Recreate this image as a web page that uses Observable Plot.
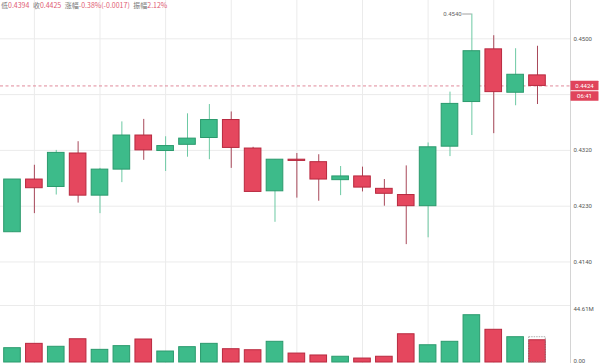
<!DOCTYPE html>
<html>
<head>
<meta charset="utf-8">
<script src="https://cdn.jsdelivr.net/npm/d3@7"></script>
<script src="https://cdn.jsdelivr.net/npm/@observablehq/plot@0.6"></script>
<style>
  html, body { margin: 0; padding: 0; background: #fff; }
  #wrap { position: relative; width: 600px; height: 363px; overflow: hidden; }
  #price { position: absolute; left: 0; top: 0; }
  #vol { position: absolute; left: 0; top: 290px; }
  #title { position: absolute; left: 1px; top: 0px; font-family: "Noto Sans CJK SC", "Noto Sans", sans-serif; font-size: 7px; color: #777; white-space: nowrap; }
  #title .v { color: #e05a72; margin-right: 3.5px; }
</style>
</head>
<body>
<div id="wrap">
  <div id="price"></div>
  <div id="vol"></div>
  <div id="title"></div>
</div>
<script>
// ---- data ----
const opens  = [0.4188, 0.4273, 0.4261, 0.4315, 0.4247, 0.4289, 0.4344, 0.4319, 0.4329, 0.4340, 0.4369, 0.4323, 0.4254, 0.4305, 0.4301, 0.4272, 0.4278, 0.4258, 0.4248, 0.4230, 0.4326, 0.4398, 0.4483, 0.4413, 0.4441];
const highs  = [0.4273, 0.4296, 0.4320, 0.4334, 0.4291, 0.4366, 0.4370, 0.4342, 0.4379, 0.4394, 0.4382, 0.4325, 0.4305, 0.4315, 0.4313, 0.4294, 0.4293, 0.4273, 0.4295, 0.4332, 0.4414, 0.4540, 0.4505, 0.4484, 0.4488];
const lows   = [0.4188, 0.4218, 0.4248, 0.4235, 0.4218, 0.4268, 0.4304, 0.4286, 0.4309, 0.4305, 0.4291, 0.4253, 0.4204, 0.4243, 0.4238, 0.4247, 0.4253, 0.4230, 0.4168, 0.4179, 0.4310, 0.4344, 0.4347, 0.4392, 0.4394];
const closes = [0.4273, 0.4259, 0.4316, 0.4247, 0.4289, 0.4344, 0.4320, 0.4327, 0.4339, 0.4369, 0.4324, 0.4253, 0.4305, 0.4303, 0.4273, 0.4278, 0.4260, 0.4250, 0.4230, 0.4325, 0.4395, 0.4480, 0.4414, 0.4442, 0.4424];
const volumes = [11.2, 14.6, 12.3, 18.2, 9.9, 12.8, 18.0, 8.6, 12.0, 14.6, 10.4, 9.6, 16.2, 7.0, 5.5, 4.5, 3.1, 4.5, 22.1, 13.5, 16.2, 37.0, 25.6, 19.8, 17.4];
const projectedVolume = 19.8; // dotted outline on the last bar
const priceTicks = [0.4140, 0.4230, 0.4320, 0.4410, 0.4500];
const priceTickLabels = ["0.4140", "0.4230", "0.4320", "", "0.4500"];
const volTicks = [0, 44.61];
const volTickLabels = ["0.00", "44.61M"];
const gridCandles = [1, 4, 7, 10, 13, 16, 19, 22];
const lastPrice = 0.4424;
const lastPriceLabel = "0.4424";
const countdownLabel = "06:41";
const highLabel = "0.4540";
const titleParts = [["低", "0.4394"], ["收", "0.4425"], ["涨幅", "-0.38%(-0.0017)"], ["振幅", "2.12%"]];

// ---- styles ----
const GREEN = "#3dbb8a", GREEN_S = "#2b9a6d", GREEN_W = "#6cc9a3";
const RED = "#e5475e", RED_S = "#b8293f", RED_W = "#a8485a";
const GRID = "#ebebeb";
const FONT = "Roboto, 'Noto Sans', sans-serif";

const candles = opens.map((o, i) => ({i, o, h: highs[i], l: lows[i], c: closes[i], up: closes[i] >= o, v: volumes[i]}));
const N = candles.length;
const xDomain = [-0.5486, 25.509];
const hw = 0.38;

document.getElementById("title").innerHTML = titleParts.map(([k, v]) => `${k}<span class="v">${v}</span>`).join("");

const price = Plot.plot({
  width: 600, height: 290,
  marginLeft: 0, marginRight: 30, marginTop: 0, marginBottom: 0,
  x: {domain: xDomain, axis: null},
  y: {domain: [0.4094, 0.45618], axis: null},
  color: {type: "identity"},
  style: {fontFamily: FONT, fontSize: "6px", overflow: "visible", background: "transparent"},
  marks: [
    Plot.ruleY(priceTicks, {stroke: GRID}),
    Plot.ruleX(gridCandles, {stroke: GRID}),
    Plot.ruleX([xDomain[1]], {stroke: "#d4d4d4"}),
    Plot.ruleY([lastPrice], {stroke: "#e0899a", strokeDasharray: "3,2.5"}),
    Plot.ruleX(candles, {x: "i", y1: "l", y2: "h", stroke: d => d.up ? GREEN_W : RED_W, strokeWidth: 1}),
    Plot.rect(candles, {x1: d => d.i - hw, x2: d => d.i + hw, y1: "o", y2: d => Math.abs(d.c - d.o) < 0.00012 ? d.o - 0.00012 : d.c,
      fill: d => d.up ? GREEN : RED, stroke: d => d.up ? GREEN_S : RED_S, strokeWidth: 1}),
    Plot.text(priceTicks.map((t, k) => ({t, s: priceTickLabels[k]})), {x: xDomain[1], y: "t", text: "s", textAnchor: "start", dx: 3, fill: "#555"}),
    // high annotation
    Plot.ruleY([{y: highs[21], i: 21}], {y: "y", x1: d => d.i - 0.42, x2: d => d.i, stroke: "#888", strokeWidth: 0.8}),
    Plot.text([{y: highs[21], i: 21}], {x: d => d.i - 0.42, y: "y", text: () => highLabel, textAnchor: "end", dx: -1, fill: "#666"})
  ]
});
document.getElementById("price").appendChild(price);

// last price & countdown boxes on the right axis
{
  const ys = price.scale("y"), xs = price.scale("x");
  const svg = d3.select(price);
  const x0 = xs.apply(xDomain[1]);
  const yc = ys.apply(lastPrice);
  const boxes = [{y: yc - 4.8, t: lastPriceLabel}, {y: yc + 5.8, t: countdownLabel}];
  const g = svg.append("g");
  g.selectAll("rect").data(boxes).join("rect")
    .attr("x", x0 + 0.5).attr("y", d => d.y).attr("width", 28).attr("height", 9.6)
    .attr("fill", "#e0445b").attr("rx", 0.5);
  g.selectAll("text").data(boxes).join("text")
    .attr("x", x0 + 14.5).attr("y", d => d.y + 4.8).attr("dy", "0.35em")
    .attr("text-anchor", "middle").attr("fill", "#fff")
    .attr("font-family", FONT).attr("font-size", "6px").text(d => d.t);
}

const vol = Plot.plot({
  width: 600, height: 73,
  marginLeft: 0, marginRight: 30, marginTop: 0, marginBottom: 0,
  x: {domain: xDomain, axis: null},
  y: {domain: [-0.78, 56.35], axis: null},
  color: {type: "identity"},
  style: {fontFamily: FONT, fontSize: "6px", overflow: "visible", background: "transparent"},
  marks: [
    Plot.ruleY([volTicks[1]], {stroke: GRID}),
    Plot.ruleX(gridCandles, {stroke: GRID}),
    Plot.ruleX([xDomain[1]], {stroke: "#d4d4d4"}),
    Plot.rect(candles, {x1: d => d.i - hw, x2: d => d.i + hw, y1: 0, y2: "v",
      fill: d => d.up ? GREEN : RED, stroke: d => d.up ? GREEN_S : RED_S, strokeWidth: 1}),
    Plot.rect([{i: N - 1, v: projectedVolume}], {x1: d => d.i - hw, x2: d => d.i + hw, y1: 0, y2: "v",
      fill: "none", stroke: "#999", strokeDasharray: "1.5,1", strokeWidth: 0.8}),
    Plot.text(volTicks.map((t, k) => ({t, s: volTickLabels[k], k})), {x: xDomain[1], y: "t", text: "s", textAnchor: "start", dx: 3,
      dy: 0, fill: "#555", frameAnchor: "left"})
  ]
});
document.getElementById("vol").appendChild(vol);
// nudge volume tick labels: top label sits below its gridline, zero label above baseline
d3.select(vol).selectAll("text").each(function(d, k) {
  const el = d3.select(this);
  const t = el.text();
  if (t === volTickLabels[1]) el.attr("dy", "0.6em");
  if (t === volTickLabels[0]) el.attr("dy", "-0.3em");
});
</script>
</body>
</html>
